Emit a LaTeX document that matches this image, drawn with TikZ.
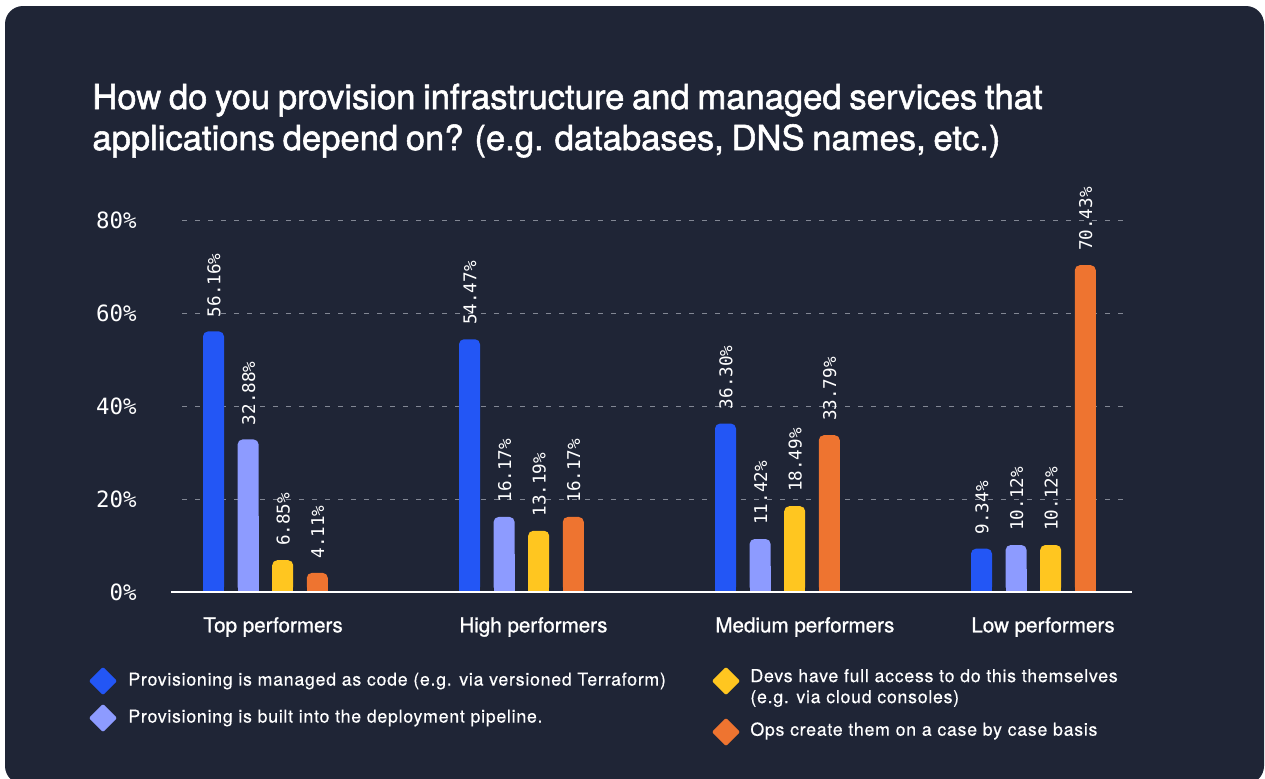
\documentclass[tikz,border=0pt]{standalone}
\usepackage{fontspec}
\setmainfont{TeX Gyre Heros}
\newfontfamily\titlefont[FakeBold=1.6, WordSpace=0.8]{TeX Gyre Heros}
\newfontfamily\catfont[FakeBold=1.0]{TeX Gyre Heros}
\newfontfamily\monofont{DejaVu Sans Mono}
\newfontfamily\legendfont[LetterSpace=4, FakeBold=0.3]{TeX Gyre Heros}

\definecolor{cardbg}{RGB}{31,37,54}
\definecolor{codeblue}{RGB}{35,86,245}
\definecolor{pipelav}{RGB}{141,155,255}
\definecolor{devyellow}{RGB}{255,198,32}
\definecolor{opsorange}{RGB}{238,116,48}
\definecolor{gridgray}{RGB}{130,135,148}

\tikzset{
    titletext/.style={anchor=base west, text=white, inner sep=0pt, font=\titlefont\fontsize{17.3}{20}\selectfont},
    ticklabel/.style={anchor=east, text=white, inner sep=0pt, font=\monofont\fontsize{11.2}{13}\selectfont},
    valuelabel/.style={anchor=west, rotate=90, text=white, inner sep=0pt, font=\monofont\fontsize{8.8}{11}\selectfont},
    catlabel/.style={anchor=west, text=white, inner sep=0pt, font=\catfont\fontsize{10.3}{12}\selectfont},
    legendtext/.style={anchor=west, text=white, inner sep=0pt, align=left, font=\legendfont\fontsize{8.9}{10.5}\selectfont},
    legendmark/.style={fill=#1, rotate=45, minimum size=10pt, inner sep=0pt, rounded corners=1pt},
    gridline/.style={gridgray, line width=0.5pt, dash pattern=on 2.5pt off 4pt}
}

\begin{document}
\begin{tikzpicture}[x=0.5pt, y=-0.5pt]
    \useasboundingbox (0,0) rectangle (1265,778);
    \fill[white] (0,0) rectangle (1265,778);
    % Card
    \fill[cardbg, rounded corners=9pt] (5,6) rectangle (1264,784);

    % Title
    \node[titletext] (title1) at (92,109) {How do you provision infrastructure and managed services that};
    \node[titletext] (title2) at (92,150) {applications depend on? (e.g. databases, DNS names, etc.)};

    % Grid and axis
    \foreach \p in {20,40,60,80} {
        \draw[gridline] (182,{592-4.64*\p}) -- (1124,{592-4.64*\p});
        \node[ticklabel] (tick-\p) at (137,{592-4.64*\p}) {\p\%};
    }
    \node[ticklabel] (tick-0) at (137,592) {0\%};

    % Bars
    \foreach \g/\a/\b/\c/\d in {0/56.16/32.88/6.85/4.11, 1/54.47/16.17/13.19/16.17,
                                2/36.30/11.42/18.49/33.79, 3/9.34/10.12/10.12/70.43} {
        \foreach \j/\v/\col in {0/\a/codeblue, 1/\b/pipelav, 2/\c/devyellow, 3/\d/opsorange} {
            \fill[\col, rounded corners=2.5pt] ({203+256*\g+34.6*\j},592) rectangle ({224+256*\g+34.6*\j},{592-4.64*\v});
            \fill[\col] ({203+256*\g+34.6*\j},592) rectangle ({224+256*\g+34.6*\j},{592-2.32*\v});
            \node[valuelabel] (val-\g-\j) at ({214+256*\g+34.6*\j},{578-4.64*\v}) {\v\%};
        }
    }
    \draw[white, line width=1pt] (171,592) -- (1132,592);

    % Category labels
    \foreach \g/\name in {0/Top performers, 1/High performers, 2/Medium performers, 3/Low performers}
        \node[catlabel] (cat-\g) at ({203+256*\g},627) {\name};

    % Legend
    \node[legendmark=codeblue] (mark1) at (103,681) {};
    \node[legendtext] (leg1) at (128,681) {Provisioning is managed as code (e.g. via versioned Terraform)};
    \node[legendmark=pipelav] (mark2) at (103,718) {};
    \node[legendtext] (leg2) at (128,718) {Provisioning is built into the deployment pipeline.};
    \node[legendmark=devyellow] (mark3) at (726,681) {};
    \node[legendtext] (leg3) at (750,688) {Devs have full access to do this themselves\\(e.g. via cloud consoles)};
    \node[legendmark=opsorange] (mark4) at (726,732) {};
    \node[legendtext] (leg4) at (750,731) {Ops create them on a case by case basis};
\end{tikzpicture}
\end{document}
